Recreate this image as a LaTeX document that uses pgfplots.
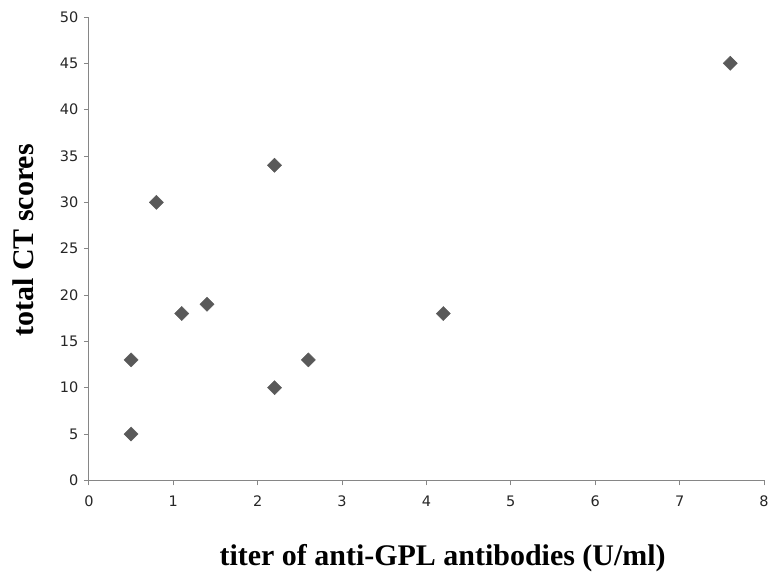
\documentclass[border=0pt]{standalone}
\usepackage{pgfplots}
\pgfplotsset{compat=1.18}
\usepackage{fontspec}
\setmainfont{Liberation Serif}
\newfontfamily\tickfont{DejaVu Sans}
\definecolor{axisgray}{HTML}{868686}
\definecolor{markgray}{HTML}{595959}
\begin{document}
\begin{tikzpicture}
\begin{axis}[
  scale only axis,
  width=676pt, height=464pt,
  xmin=0, xmax=8, ymin=0, ymax=50,
  axis x line*=bottom, axis y line*=left,
  axis line style={draw=axisgray, line width=0.8pt, -},
  xtick={0,1,...,8}, ytick={0,5,...,50},
  tick align=outside, major tick length=5pt,
  tick style={draw=axisgray, line width=0.8pt},
  /pgf/number format/assume math mode=true,
  tick label style={font=\tickfont\fontsize{14.5}{17}\selectfont, text=black!85},
  yticklabel style={xshift=-2pt},
  xticklabel style={yshift=-7pt, inner xsep=0pt},
  xlabel={titer of anti-GPL antibodies (U/ml)},
  ylabel={total CT scores},
  label style={font=\fontsize{30}{36}\selectfont\bfseries},
  xlabel style={at={(axis description cs:0.524,-0.1836)}, anchor=base},
  ylabel style={at={(axis description cs:-0.0817,0.518)}, anchor=base, rotate=0},
  clip=false,
]
\addplot[only marks, mark=square*, mark size=5pt,
  mark options={rotate=45, fill=markgray, draw=markgray}]
  coordinates {
  (0.5,13) (0.5,5) (0.8,30) (1.1,18) (1.4,19)
  (2.2,34) (2.2,10) (2.6,13) (4.2,18) (7.6,45)
  };
\coordinate (bl) at (rel axis cs:0,0);
\coordinate (tr) at (rel axis cs:1,1);
\end{axis}
\path ([shift={(-89pt,-94.3pt)}]bl) rectangle ([shift={(5pt,17pt)}]tr);
\end{tikzpicture}
\end{document}
